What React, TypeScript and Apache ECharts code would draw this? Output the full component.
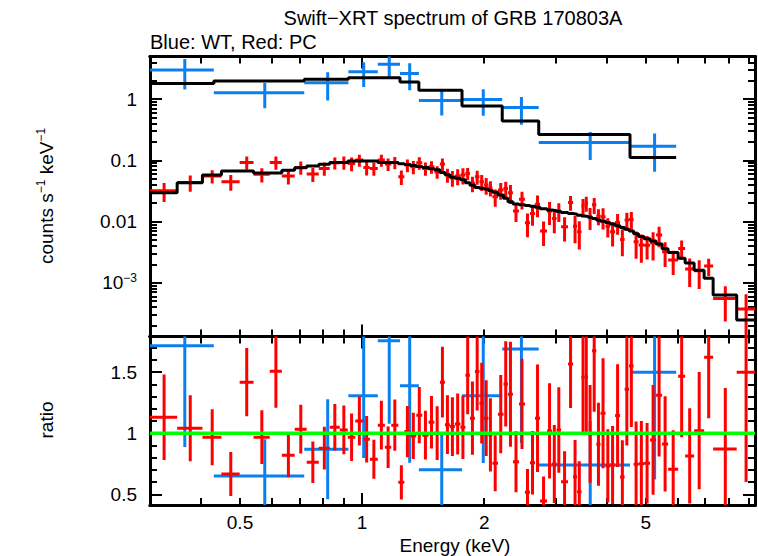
import React, { useEffect, useRef } from "react";
import * as echarts from "echarts";

const FONT = "'Liberation Sans', Arial, Helvetica, sans-serif";

// ---- axis ranges ----
const X_MIN = 0.3;
const X_MAX = 9.3;
const Y_MIN = 1.32e-4;
const Y_MAX = 4.97;
const R_MIN = 0.412;
const R_MAX = 1.792;

// ---- tick / label values ----
const xLabelValues = [0.5, 1, 2, 5];
const xMinorTickValues = [0.4, 0.5, 0.6, 0.7, 0.8, 0.9, 2, 3, 4, 5, 6, 7, 8, 9];
const xMajorTickValues = [1];
const yLabelValues = [0.001, 0.01, 0.1, 1];
const yMajorTickValues = [0.001, 0.01, 0.1, 1];
const yMinorTickValues = [
  0.0002, 0.0003, 0.0004, 0.0005, 0.0006, 0.0007, 0.0008, 0.0009,
  0.002, 0.003, 0.004, 0.005, 0.006, 0.007, 0.008, 0.009,
  0.02, 0.03, 0.04, 0.05, 0.06, 0.07, 0.08, 0.09,
  0.2, 0.3, 0.4, 0.5, 0.6, 0.7, 0.8, 0.9,
  2, 3, 4,
];
const rLabelValues = [0.5, 1, 1.5];
const rMajorTickValues = [0.5, 1, 1.5];
const rMinorTickValues = [0.5, 0.6, 0.7, 0.8, 0.9, 1.1, 1.2, 1.3, 1.4, 1.6, 1.7];

// ---- WT (blue) data ----
const wtEdges = [0.3, 0.431, 0.72, 0.925, 1.093, 1.24, 1.38, 1.763, 2.215, 2.725, 4.575, 5.945];
const wtFlux = [2.98, 1.27, 1.85, 2.79, 3.73, 2.63, 0.95, 0.99, 0.73, 0.196, 0.169];
const wtFluxErr = [1.55, 0.56, 0.9, 1.21, 1.47, 1.23, 0.41, 0.455, 0.35, 0.095, 0.104];
const wtModel = [1.8, 1.97, 2.12, 2.23, 2.23, 1.9, 1.39, 0.77, 0.44, 0.265, 0.111];
const wtRatio = [1.716, 0.65, 0.869, 1.306, 1.757, 1.388, 0.7, 1.306, 1.69, 0.74, 1.5];
const wtRatioErr = [0.83, 0.3, 0.41, 0.51, 0.68, 0.63, 0.31, 0.55, 0.77, 0.36, 0.88];

// ---- PC (red) data ----
const pcEdges = [
  0.3, 0.35, 0.404, 0.45, 0.499, 0.54, 0.592, 0.634, 0.682, 0.73,
  0.782, 0.832, 0.881, 0.922, 0.962, 1.007, 1.045, 1.093, 1.138, 1.18,
  1.228, 1.271, 1.315, 1.36, 1.407, 1.458, 1.507, 1.555, 1.6, 1.646,
  1.693, 1.747, 1.797, 1.844, 1.897, 1.946, 1.997, 2.048, 2.095, 2.162,
  2.231, 2.288, 2.354, 2.436, 2.52, 2.593, 2.668, 2.745, 2.856, 2.939,
  3.015, 3.093, 3.218, 3.311, 3.387, 3.474, 3.534, 3.605, 3.688, 3.779,
  3.87, 3.982, 4.085, 4.203, 4.324, 4.437, 4.55, 4.669, 4.803, 4.955,
  5.126, 5.304, 5.488, 5.679, 6.012, 6.255, 6.583, 6.967, 7.333, 8.382,
  9.3,
];
const pcFlux = [
  0.0318, 0.0435, 0.0552, 0.0445, 0.0924, 0.0589, 0.0924, 0.0552, 0.0766, 0.0595,
  0.0738, 0.091, 0.0924, 0.089, 0.1007, 0.0766, 0.0738, 0.1007, 0.0867, 0.0924,
  0.0537, 0.0835, 0.0783, 0.091, 0.0738, 0.0783, 0.0649, 0.0867, 0.058, 0.0518,
  0.0552, 0.0573, 0.061, 0.042, 0.0537, 0.0445, 0.0394, 0.0355, 0.0254, 0.0326,
  0.0347, 0.0294, 0.0148, 0.0232, 0.00953, 0.01356, 0.0192, 0.00697, 0.0148, 0.01124,
  0.0148, 0.00819, 0.0205, 0.0084, 0.0068, 0.0179, 0.0199, 0.01194, 0.0188, 0.01225,
  0.0119, 0.0084, 0.0068, 0.00966, 0.0051, 0.01054, 0.0108, 0.00466, 0.00411, 0.0041,
  0.0045, 0.006, 0.0032, 0.00234, 0.00363, 0.00167, 0.00156, 0.00187, 0.000553, 0.00037,
];
const pcFluxErr = [
  0.0109, 0.0128, 0.0135, 0.0128, 0.0226, 0.0155, 0.0226, 0.0151, 0.0188, 0.0155,
  0.0181, 0.02, 0.0226, 0.0225, 0.0222, 0.02, 0.018, 0.022, 0.02, 0.021,
  0.0144, 0.02, 0.019, 0.021, 0.018, 0.018, 0.015, 0.02, 0.015, 0.015,
  0.016, 0.017, 0.014, 0.012, 0.014, 0.013, 0.012, 0.01, 0.008, 0.01,
  0.01, 0.01, 0.005, 0.0075, 0.004, 0.005, 0.0075, 0.003, 0.006, 0.0048,
  0.005, 0.0035, 0.0055, 0.004, 0.0033, 0.0055, 0.0055, 0.0047, 0.0055, 0.0036,
  0.0045, 0.0029, 0.0029, 0.0036, 0.0024, 0.0034, 0.0035, 0.0022, 0.002, 0.0017,
  0.0022, 0.0022, 0.0014, 0.001, 0.00125, 0.00082, 0.00077, 0.0006, 0.00032, 0.00028,
];
const pcModel = [
  0.0294, 0.0429, 0.0573, 0.0667, 0.0667, 0.062, 0.062, 0.069, 0.0753, 0.0804,
  0.0858, 0.0924, 0.0924, 0.097, 0.097, 0.097, 0.097, 0.0924, 0.0924, 0.0924,
  0.088, 0.085, 0.082, 0.079, 0.076, 0.073, 0.07, 0.063, 0.058, 0.053,
  0.051, 0.048, 0.043, 0.039, 0.036, 0.035, 0.034, 0.032, 0.03, 0.027,
  0.024, 0.021, 0.0193, 0.0187, 0.0182, 0.0177, 0.0171, 0.0162, 0.0154, 0.015,
  0.0146, 0.014, 0.0135, 0.0132, 0.0127, 0.0123, 0.0121, 0.0117, 0.0112, 0.0106,
  0.0101, 0.0096, 0.0091, 0.0085, 0.008, 0.0075, 0.007, 0.0063, 0.0057, 0.0052,
  0.0048, 0.0043, 0.0036, 0.0031, 0.0025, 0.0021, 0.0016, 0.00118, 0.00063, 0.000245,
];
const pcRatio = [
  1.131, 1.041, 0.967, 0.666, 1.418, 0.967, 1.508, 0.82, 1.033, 0.762,
  0.877, 1.049, 1.027, 0.967, 1.1, 0.95, 0.787, 1.066, 0.885, 1.066,
  0.598, 1.013, 0.978, 1.148, 0.984, 1.09, 1.0, 1.418, 1.07, 1.054,
  1.076, 1.049, 1.475, 1.123, 1.505, 1.246, 1.123, 0.986, 0.754, 1.156,
  1.404, 1.32, 0.767, 1.24, 0.516, 0.759, 1.123, 0.445, 1.019, 0.748,
  1.027, 0.603, 1.566, 0.644, 0.52, 1.459, 1.46, 0.994, 1.675, 0.91,
  1.164, 0.732, 0.74, 1.144, 0.642, 1.36, 1.55, 0.746, 0.75, 0.754,
  0.945, 1.31, 0.912, 0.705, 1.467, 0.814, 1.021, 1.623, 0.871, 1.5,
];
const pcRatioErr = [
  0.35, 0.27, 0.23, 0.18, 0.28, 0.22, 0.3, 0.18, 0.2, 0.17,
  0.175, 0.19, 0.2, 0.195, 0.2, 0.19, 0.16, 0.2, 0.17, 0.21,
  0.14, 0.21, 0.19, 0.23, 0.2, 0.215, 0.22, 0.29, 0.24, 0.24,
  0.25, 0.26, 0.32, 0.3, 0.32, 0.33, 0.31, 0.3, 0.23, 0.32,
  0.35, 0.43, 0.25, 0.37, 0.19, 0.26, 0.44, 0.2, 0.39, 0.32,
  0.35, 0.25, 0.36, 0.3, 0.25, 0.45, 0.45, 0.4, 0.5, 0.34,
  0.45, 0.3, 0.32, 0.42, 0.3, 0.46, 0.5, 0.35, 0.35, 0.33,
  0.45, 0.5, 0.39, 0.32, 0.5, 0.39, 0.48, 0.5, 0.5, 0.9,
];

// unity line of the ratio panel
const unityX = [X_MIN, X_MAX];
const unityY = [1, 1];

// ---- colours ----
const BLUE = "#0a80f0";
const RED = "#ff0000";
const GREEN = "#00ff00";

// ---- helpers building library data from the arrays ----
function errData(edges: number[], vals: number[], errs: number[]) {
  return vals.map((v, i) => [edges[i], edges[i + 1], v, errs[i]]);
}
function stepData(edges: number[], vals: number[]) {
  const out: number[][] = [];
  vals.forEach((v, i) => {
    out.push([edges[i], v]);
    out.push([edges[i + 1], v]);
  });
  return out;
}

function makeErrRender(color: string, floor: number) {
  return (params: any, api: any) => {
    const lo = api.value(0);
    const hi = api.value(1);
    const y = api.value(2);
    const dy = api.value(3);
    const xc = (lo + hi) / 2;
    const yLow = Math.max(y - dy, floor);
    const a = api.coord([lo, y]);
    const b = api.coord([hi, y]);
    const c = api.coord([xc, yLow]);
    const d = api.coord([xc, y + dy]);
    const st = { stroke: color, lineWidth: 3, lineCap: "butt" };
    return {
      type: "group",
      children: [
        { type: "line", shape: { x1: a[0], y1: a[1], x2: b[0], y2: b[1] }, style: st },
        { type: "line", shape: { x1: c[0], y1: c[1], x2: d[0], y2: d[1] }, style: st },
      ],
    };
  };
}

const LABEL_SIZE = 19;
const MINOR = 7;
const MAJOR = 12;
const TICK_STYLE = { color: "#000", width: 2 };

function xAxisDef(grid: number, position: string, ticks: number[], len: number, labels?: number[]) {
  return {
    type: "log",
    logBase: 10,
    gridIndex: grid,
    position,
    min: X_MIN,
    max: X_MAX,
    axisLine: { show: true, onZero: false, lineStyle: { color: "#000", width: 3 } },
    axisTick: { show: true, inside: true, length: len, customValues: ticks, lineStyle: TICK_STYLE },
    axisLabel: labels
      ? {
          show: true,
          customValues: labels,
          margin: 8,
          color: "#000",
          fontSize: LABEL_SIZE,
          fontFamily: FONT,
          formatter: (v: number) => String(Math.round(v * 10) / 10),
        }
      : { show: false },
    splitLine: { show: false },
    minorTick: { show: false },
    minorSplitLine: { show: false },
  };
}

function yLogDef(grid: number, position: string, ticks: number[], len: number, labels?: number[]) {
  return {
    type: "log",
    logBase: 10,
    gridIndex: grid,
    position,
    min: Y_MIN,
    max: Y_MAX,
    axisLine: { show: true, onZero: false, lineStyle: { color: "#000", width: 3 } },
    axisTick: { show: true, inside: true, length: len, customValues: ticks, lineStyle: TICK_STYLE },
    axisLabel: labels
      ? {
          show: true,
          customValues: labels,
          margin: 13,
          color: "#000",
          fontSize: LABEL_SIZE,
          fontFamily: FONT,
          formatter: (v: number) => {
            const e = Math.round(Math.log10(v));
            if (e === 0) return "1";
            if (e === -1) return "0.1";
            if (e === -2) return "0.01";
            return "{a|10}{b|\u22123}";
          },
          rich: {
            a: { fontSize: LABEL_SIZE, fontFamily: FONT, color: "#000", lineHeight: 22 },
            b: { fontSize: 12, fontFamily: FONT, color: "#000", verticalAlign: "top", lineHeight: 22, padding: [0, 0, 10, 0] },
          },
        }
      : { show: false },
    splitLine: { show: false },
    minorTick: { show: false },
  };
}

function yRatioDef(grid: number, position: string, ticks: number[], len: number, labels?: number[]) {
  return {
    type: "value",
    gridIndex: grid,
    position,
    min: R_MIN,
    max: R_MAX,
    axisLine: { show: true, onZero: false, lineStyle: { color: "#000", width: 3 } },
    axisTick: { show: true, inside: true, length: len, customValues: ticks, lineStyle: TICK_STYLE },
    axisLabel: labels
      ? {
          show: true,
          customValues: labels,
          margin: 13,
          color: "#000",
          fontSize: LABEL_SIZE,
          fontFamily: FONT,
          formatter: (v: number) => String(Math.round(v * 10) / 10),
        }
      : { show: false },
    splitLine: { show: false },
  };
}

const option: any = {
  animation: false,
  backgroundColor: "#fff",
  grid: [
    { left: 150, top: 56.5, width: 605, height: 280 },
    { left: 150, top: 336.5, width: 605, height: 168.5 },
  ],
  xAxis: [
    xAxisDef(0, "bottom", xMinorTickValues, MINOR),
    xAxisDef(0, "bottom", xMajorTickValues, MAJOR),
    xAxisDef(0, "top", xMinorTickValues, MINOR),
    xAxisDef(0, "top", xMajorTickValues, MAJOR),
    xAxisDef(1, "bottom", xMinorTickValues, MINOR),
    xAxisDef(1, "bottom", xMajorTickValues, MAJOR, xLabelValues),
    xAxisDef(1, "top", xMinorTickValues, MINOR),
    xAxisDef(1, "top", xMajorTickValues, MAJOR),
  ],
  yAxis: [
    yLogDef(0, "left", yMinorTickValues, MINOR),
    yLogDef(0, "left", yMajorTickValues, MAJOR, yLabelValues),
    yLogDef(0, "right", yMinorTickValues, MINOR),
    yLogDef(0, "right", yMajorTickValues, MAJOR),
    yRatioDef(1, "left", rMinorTickValues, MINOR),
    yRatioDef(1, "left", rMajorTickValues, MAJOR, rLabelValues),
    yRatioDef(1, "right", rMinorTickValues, MINOR),
    yRatioDef(1, "right", rMajorTickValues, MAJOR),
  ],
  series: [
    {
      type: "custom",
      name: "WT",
      xAxisIndex: 0,
      yAxisIndex: 0,
      clip: true,
      encode: { x: [0, 1], y: 2 },
      data: errData(wtEdges, wtFlux, wtFluxErr),
      renderItem: makeErrRender(BLUE, 1e-7),
      z: 2,
    },
    {
      type: "custom",
      name: "PC",
      xAxisIndex: 0,
      yAxisIndex: 0,
      clip: true,
      encode: { x: [0, 1], y: 2 },
      data: errData(pcEdges, pcFlux, pcFluxErr),
      renderItem: makeErrRender(RED, 1e-7),
      z: 3,
    },
    {
      type: "line",
      name: "WT model",
      xAxisIndex: 0,
      yAxisIndex: 0,
      showSymbol: false,
      symbol: "none",
      clip: true,
      lineStyle: { color: "#000", width: 3 },
      data: stepData(wtEdges, wtModel),
      z: 4,
    },
    {
      type: "line",
      name: "PC model",
      xAxisIndex: 0,
      yAxisIndex: 0,
      showSymbol: false,
      symbol: "none",
      clip: true,
      lineStyle: { color: "#000", width: 3 },
      data: stepData(pcEdges, pcModel),
      z: 4,
    },
    {
      type: "custom",
      name: "WT ratio",
      xAxisIndex: 4,
      yAxisIndex: 4,
      clip: true,
      encode: { x: [0, 1], y: 2 },
      data: errData(wtEdges, wtRatio, wtRatioErr),
      renderItem: makeErrRender(BLUE, -10),
      z: 2,
    },
    {
      type: "custom",
      name: "PC ratio",
      xAxisIndex: 4,
      yAxisIndex: 4,
      clip: true,
      encode: { x: [0, 1], y: 2 },
      data: errData(pcEdges, pcRatio, pcRatioErr),
      renderItem: makeErrRender(RED, -10),
      z: 3,
    },
    {
      type: "line",
      name: "unity",
      xAxisIndex: 4,
      yAxisIndex: 4,
      showSymbol: false,
      symbol: "none",
      lineStyle: { color: GREEN, width: 3.5 },
      data: unityX.map((x, i) => [x, unityY[i]]),
      z: 5,
    },
  ],
  graphic: [
    {
      type: "text",
      x: 453,
      y: 18,
      style: {
        text: "Swift\u2212XRT spectrum of GRB 170803A",
        font: `20px ${FONT}`,
        fill: "#000",
        textAlign: "center",
        textVerticalAlign: "middle",
      },
    },
    {
      type: "text",
      x: 150,
      y: 42,
      style: {
        text: "Blue: WT, Red: PC",
        font: `20px ${FONT}`,
        fill: "#000",
        textAlign: "left",
        textVerticalAlign: "middle",
      },
    },
    {
      type: "text",
      x: 46,
      y: 196,
      rotation: Math.PI / 2,
      style: {
        text: "counts s{s|\u22121} keV{s|\u22121}",
        font: `19px ${FONT}`,
        fill: "#000",
        textAlign: "center",
        textVerticalAlign: "middle",
        rich: {
          s: { fontSize: 12, fontFamily: FONT, fill: "#000", verticalAlign: "top", padding: [0, 0, 10, 0] },
        },
      },
    },
    {
      type: "text",
      x: 46,
      y: 420,
      rotation: Math.PI / 2,
      style: {
        text: "ratio",
        font: `19px ${FONT}`,
        fill: "#000",
        textAlign: "center",
        textVerticalAlign: "middle",
      },
    },
    {
      type: "text",
      x: 455,
      y: 545,
      style: {
        text: "Energy (keV)",
        font: `19px ${FONT}`,
        fill: "#000",
        textAlign: "center",
        textVerticalAlign: "middle",
      },
    },
  ],
};

export default function App() {
  const ref = useRef<HTMLDivElement>(null);
  useEffect(() => {
    const chart = echarts.init(ref.current as HTMLDivElement, null, { renderer: "svg" });
    chart.setOption(option);
    return () => chart.dispose();
  }, []);
  return (
    <div
      ref={ref}
      style={{ position: "absolute", left: 0, top: 0, width: 758, height: 556, background: "#fff" }}
    />
  );
}
